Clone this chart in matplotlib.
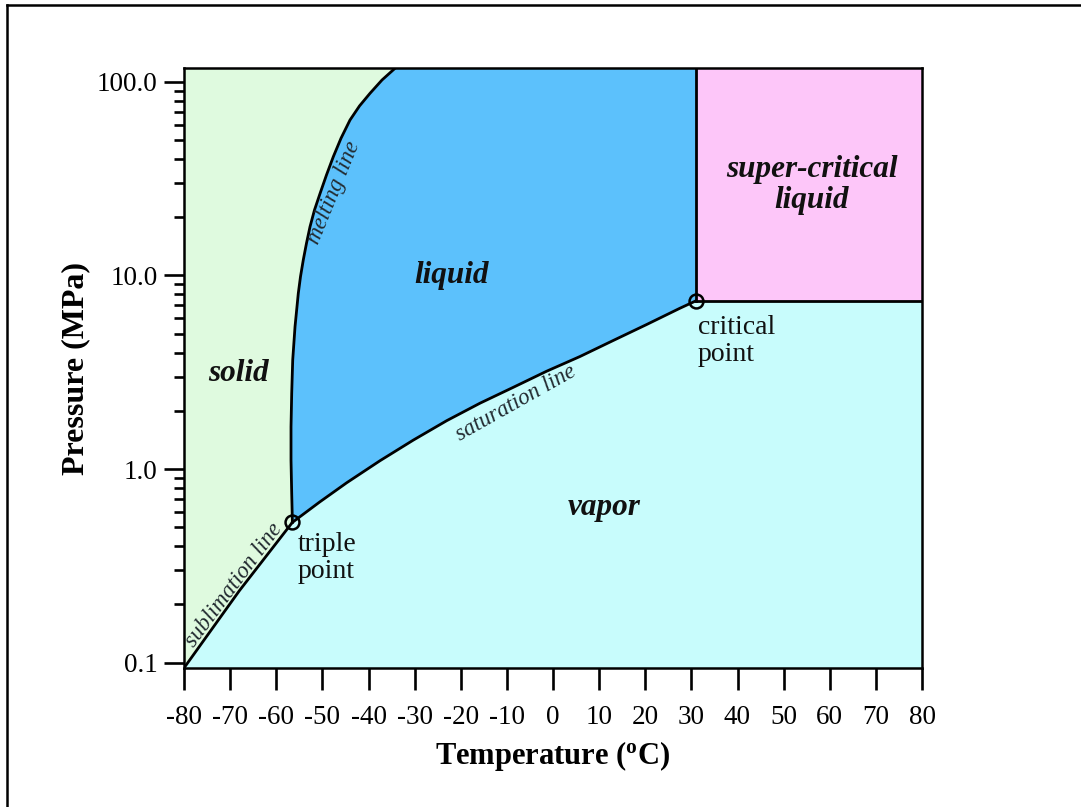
import matplotlib
matplotlib.use("Agg")
import matplotlib.pyplot as plt
from matplotlib.ticker import FixedLocator, FixedFormatter, LogLocator, NullFormatter
from matplotlib.lines import Line2D

plt.rcParams['font.family'] = ['Liberation Serif', 'DejaVu Serif']
plt.rcParams['mathtext.fontset'] = 'custom'
plt.rcParams['mathtext.rm'] = 'Liberation Serif'
plt.rcParams['mathtext.bf'] = 'Liberation Serif:bold'
plt.rcParams['mathtext.it'] = 'Liberation Serif:italic'
plt.rcParams['axes.unicode_minus'] = False

# Axis ranges (temperature in degC, pressure in MPa)
T_MIN, T_MAX = -80.0, 80.0
P_MIN, P_MAX = 0.0937, 117.4

# Triple and critical points of CO2
triple_T, triple_P = -56.5, 0.53
crit_T, crit_P = 31.0, 7.4

# Phase boundaries
sublimation_T = [-80.0, -68.0, -56.5]
sublimation_P = [0.0937, 0.235, 0.53]

melting_T = [-56.5, -56.65, -56.8, -56.8, -56.65, -56.43, -55.93, -55.22,
             -54.74, -54.14, -53.44, -52.68, -51.71, -50.49, -49.11, -47.63,
             -45.96, -44.01, -41.95, -39.67, -37.07, -34.25]
melting_P = [0.53, 0.749, 1.11, 1.65, 2.46, 3.66, 5.44, 8.09,
             9.88, 12.03, 14.7, 17.87, 21.8, 26.6, 33.07, 41.1,
             51.2, 63.6, 75.2, 87.4, 102.4, 117.7]

saturation_T = [-56.5, -50.6, -44.7, -37.5, -30.3, -23.05, -15.8, -8.6,
                -1.4, 5.85, 13.1, 20.3, 27.5, 31.0]
saturation_P = [0.53, 0.675, 0.85, 1.104, 1.41, 1.777, 2.19, 2.644,
                3.2, 3.814, 4.62, 5.58, 6.77, 7.4]

# Tick values and labels
x_ticks = list(range(-80, 81, 10))
x_tick_labels = [str(v) for v in x_ticks]
y_ticks = [0.1, 1.0, 10.0, 100.0]
y_tick_labels = ['0.1', '1.0', '10.0', '100.0']

# Region colours
c_solid = '#DFFADF'
c_liquid = '#5CC1FC'
c_vapor = '#C8FCFC'
c_super = '#FDC6F9'

fig = plt.figure(figsize=(10.81, 8.07), dpi=100)
fig.patch.set_facecolor('white')
ax = fig.add_axes([184 / 1081, 1 - 668 / 807, (922 - 184) / 1081, (668 - 68.5) / 807])
ax.set_facecolor(c_vapor)
ax.set_yscale('log')
ax.set_xlim(T_MIN, T_MAX)
ax.set_ylim(P_MIN, P_MAX)

# Filled phase regions
solid_x = [T_MIN] + sublimation_T[1:] + melting_T[1:] + [T_MIN]
solid_y = [P_MIN] + sublimation_P[1:] + melting_P[1:] + [P_MAX]
ax.fill(solid_x, solid_y, color=c_solid, lw=0, zorder=1)

liquid_x = melting_T + [crit_T, crit_T] + saturation_T[::-1]
liquid_y = melting_P + [P_MAX, crit_P] + saturation_P[::-1]
ax.fill(liquid_x, liquid_y, color=c_liquid, lw=0, zorder=1)

ax.fill([crit_T, T_MAX, T_MAX, crit_T], [crit_P, crit_P, P_MAX, P_MAX],
        color=c_super, lw=0, zorder=1)

# Boundary lines
lw = 2.0
line_style = dict(color='black', lw=lw, zorder=3, solid_joinstyle='round')
ax.plot(sublimation_T, sublimation_P, **line_style)
ax.plot(melting_T, melting_P, **line_style)
ax.plot(saturation_T, saturation_P, **line_style)
ax.plot([crit_T, crit_T], [crit_P, P_MAX], **line_style)
ax.plot([crit_T, T_MAX], [crit_P, crit_P], **line_style)

# Triple and critical point markers
ax.plot([triple_T, crit_T], [triple_P, crit_P], linestyle='none', marker='o',
        markersize=10, markerfacecolor='none', markeredgecolor='black',
        markeredgewidth=1.8, zorder=4)

# Ticks
ax.xaxis.set_major_locator(FixedLocator(x_ticks))
ax.xaxis.set_major_formatter(FixedFormatter(x_tick_labels))
ax.yaxis.set_major_locator(FixedLocator(y_ticks))
ax.yaxis.set_major_formatter(FixedFormatter(y_tick_labels))
ax.yaxis.set_minor_locator(LogLocator(base=10, subs=[2, 3, 4, 5, 6, 7, 8, 9]))
ax.yaxis.set_minor_formatter(NullFormatter())
ax.tick_params(axis='x', which='major', direction='out', length=15.8, width=1.9,
               pad=11, labelsize=19.5)
ax.tick_params(axis='y', which='major', direction='out', length=14.4, width=1.9,
               pad=4.5, labelsize=19.5)
ax.tick_params(axis='y', which='minor', direction='out', length=7.2, width=1.9)
for s in ax.spines.values():
    s.set_linewidth(1.8)
    s.set_zorder(5)

ax.set_xlabel(r'Temperature ($^{\mathbf{o}}$C)', fontsize=22, fontweight='bold',
              labelpad=6)
ax.set_ylabel('Pressure (MPa)', fontsize=23, fontweight='bold', labelpad=5)

# Region names
region_kw = dict(fontsize=22.5, fontweight='bold', fontstyle='italic',
                 ha='center', va='center', color='#111111', zorder=6)
ax.text(-68.1, 3.12, 'solid', **region_kw)
ax.text(-22.1, 10.0, 'liquid', **region_kw)
ax.text(11.1, 0.636, 'vapor', **region_kw)
ax.text(56.1, 29.3, 'super-critical\nliquid', linespacing=1.12, **region_kw)

# Point annotations
point_kw = dict(fontsize=20, ha='left', va='center', color='#111111',
                linespacing=1.12, zorder=6)
ax.text(31.4, 4.6, 'critical\npoint', **point_kw)
ax.text(-55.3, 0.347, 'triple\npoint', **point_kw)

# Line names along the curves
line_kw = dict(fontsize=16.5, fontstyle='italic', ha='center', va='center',
               color='#222a30', rotation_mode='anchor', zorder=6)
ax.text(-47.5, 26.7, 'melting line', rotation=67.8, **line_kw)
ax.text(-8.0, 2.18, 'saturation line', rotation=29.4, **line_kw)
ax.text(-69.2, 0.2515, 'sublimation line', rotation=53.4, **line_kw)

# Frame along the top and left edges of the figure
fig.add_artist(Line2D([7 / 1081, 1.0], [1 - 5 / 807, 1 - 5 / 807],
                      transform=fig.transFigure, color='black', lw=1.8))
fig.add_artist(Line2D([7 / 1081, 7 / 1081], [0.0, 1 - 5 / 807],
                      transform=fig.transFigure, color='black', lw=1.8))

fig.savefig('out.png', dpi=100, facecolor='white')
